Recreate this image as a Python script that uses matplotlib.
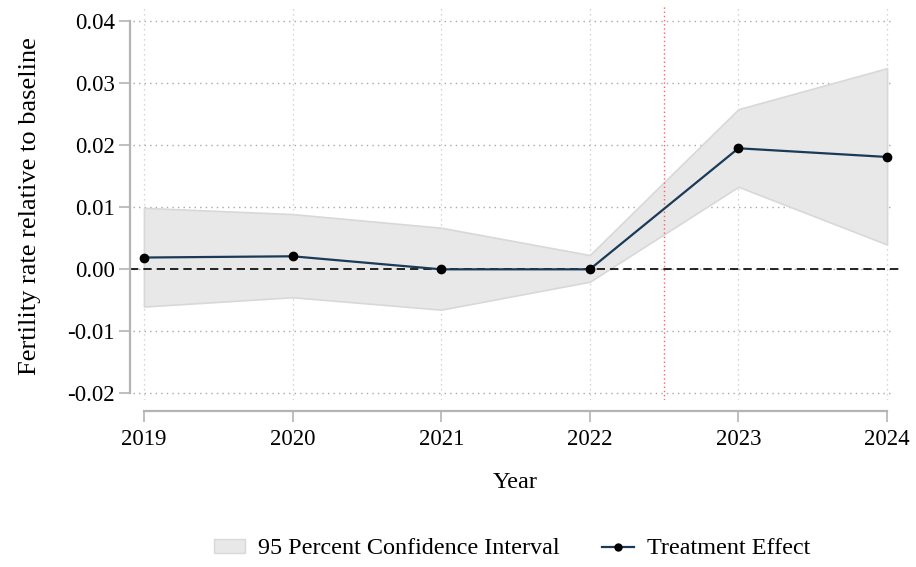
import matplotlib
matplotlib.use("Agg")
import matplotlib.pyplot as plt
from matplotlib.patches import Patch
from matplotlib.lines import Line2D

# event-study estimates and 95% bounds
years = [2019, 2020, 2021, 2022, 2023, 2024]
effect = [0.0019, 0.0021, 0.0, 0.0, 0.0195, 0.0181]
ci_upper = [0.0099, 0.0089, 0.0067, 0.0023, 0.0258, 0.0324]
ci_lower = [-0.0060, -0.0045, -0.0065, -0.0020, 0.0133, 0.0040]
y_ticks = [-0.02, -0.01, 0.0, 0.01, 0.02, 0.03, 0.04]
y_tick_labels = ["-0.02", "-0.01", "0.00", "0.01", "0.02", "0.03", "0.04"]
policy_year = 2022.5

plt.rcParams['font.family'] = ['Liberation Serif', 'DejaVu Serif']
plt.rcParams['font.size'] = 16

fig = plt.figure(figsize=(9.16, 5.67), dpi=100)
W, H = 916, 567
ax = fig.add_axes([130 / W, 1 - 400 / H, (901 - 130) / W, (400 - 5) / H])

ax.set_xlim(2018.906, 2024.094)
ax.set_ylim(-0.02105, 0.04258)

grid_col = '#a8a8a8'
axis_col = '#b4b4b4'

# grid
for yv in y_ticks:
    ax.axhline(yv, xmin=0.004, xmax=0.99, color=grid_col, lw=1.0, ls=(0, (1, 3)), zorder=0)
for xv in years:
    ax.axvline(xv, color='#c8c8c8', lw=0.9, ls=(0, (1, 3)), zorder=0)

ax.fill_between(years, ci_lower, ci_upper, facecolor='#e8e8e8', edgecolor='#d8d8d8',
                lw=1.2, zorder=1)
ax.axhline(0, color='black', lw=1.2, ls=(0, (5, 3)), zorder=2)
ax.axvline(policy_year, color='#ff6060', lw=1.0, ls=(0, (1, 2)), zorder=2)
ax.plot(years, effect, color='#1b3a57', lw=1.6, marker='o', ms=6,
        mfc='black', mec='black', zorder=3)

for side in ['top', 'right']:
    ax.spines[side].set_visible(False)
ax.spines['left'].set_bounds(-0.02, 0.04)
ax.spines['left'].set_color(axis_col)
ax.spines['left'].set_linewidth(1.6)
ax.spines['bottom'].set_bounds(2019, 2024)
ax.spines['bottom'].set_position(('outward', 8))
ax.spines['bottom'].set_color(axis_col)
ax.spines['bottom'].set_linewidth(1.6)

ax.set_yticks(y_ticks)
ax.set_yticklabels(y_tick_labels)
ax.set_xticks(years)
ax.set_xticklabels([str(y) for y in years])
ax.tick_params(axis='both', length=8, width=1.2, color=axis_col, labelsize=16.5)
ax.tick_params(axis='y', pad=3)
ax.tick_params(axis='x', pad=5)

ax.set_ylabel('Fertility rate relative to baseline', fontsize=19)
ax.yaxis.set_label_coords(-(130 - 41) / (901 - 130), 0.49)
ax.set_xlabel('Year', fontsize=17.5, labelpad=16)

handles = [Patch(facecolor='#e8e8e8', edgecolor='#d8d8d8', label='95 Percent Confidence Interval'),
           Line2D([], [], color='#1b3a57', lw=1.6, marker='o', ms=5,
                  mfc='black', mec='black', label='Treatment Effect')]
fig.legend(handles=handles, loc='center', bbox_to_anchor=(512 / W, 1 - 549 / H), ncol=2,
           frameon=False, fontsize=17.4, handlelength=1.32, handleheight=0.5,
           columnspacing=1.74, handletextpad=0.54)

fig.savefig('out.png', dpi=100)
